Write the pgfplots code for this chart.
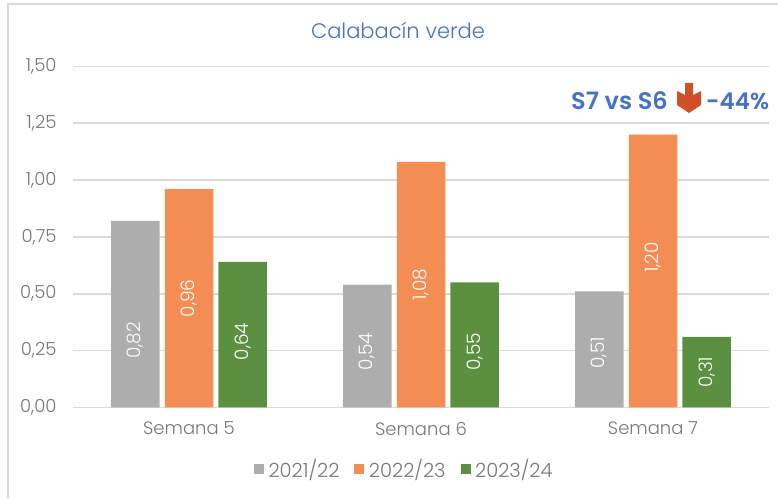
\documentclass[border=0pt]{standalone}
\usepackage{pgfplots}
\pgfplotsset{compat=1.18}
\usepackage{fontspec}
\setmainfont{Poppins Light}
\definecolor{txt}{HTML}{787878}
\definecolor{grd}{HTML}{DADADA}
\definecolor{gr}{HTML}{ADADAD}
\definecolor{orp}{HTML}{F38D54}
\definecolor{grn}{HTML}{5B9041}
\definecolor{blu}{HTML}{4472C4}
\definecolor{arr}{HTML}{CF5028}
\begin{document}
\begin{tikzpicture}
\path[use as bounding box,fill=white] (0pt,0pt) rectangle (778pt,498pt);
\draw[grd,line width=1.5pt] (8pt,0pt) -- (8pt,494pt) -- (778pt,494pt);
\begin{axis}[
  at={(73pt,90.6pt)},anchor=south west,
  scale only axis,width=696pt,height=341pt,
  xmin=-0.5,xmax=2.5,ymin=0,ymax=1.5,
  axis line style={draw=none},
  ytick={0,0.25,0.5,0.75,1,1.25,1.5},
  xtick={0,1,2},xticklabels={Semana 5,Semana 6,Semana 7},
  major tick length=0pt,
  ymajorgrids,grid style={grd,line width=1.6pt},
  ticklabel style={font=\fontsize{18}{20}\selectfont,text=txt},
  y tick label style={xshift=-13pt},
  x tick label style={yshift=-11pt},
  /pgf/number format/assume math mode=true,
  yticklabel style={/pgf/number format/.cd,fixed,fixed zerofill,precision=2,use comma},
  ybar=5.2pt,bar width=48.5pt,
  legend style={at={(0.476,-0.18)},anchor=center,draw=none,fill=none,legend columns=3,
    font=\fontsize{19.5}{20}\selectfont,text=txt,
    /tikz/every even column/.append style={column sep=13pt},
    /tikz/every odd column/.append style={column sep=2.5pt}},
  legend image code/.code={\fill[#1] (0pt,-5pt) rectangle (10pt,5pt);},
  clip=false,
]
\addplot[fill=gr,draw=none] coordinates {(0,0.82) (1,0.54) (2,0.51)};
\addplot[fill=orp,draw=none] coordinates {(0,0.96) (1,1.08) (2,1.20)};
\addplot[fill=grn,draw=none] coordinates {(0,0.64) (1,0.55) (2,0.31)};
\legend{2021/22,2022/23,2023/24}
\node[rotate=90,text=white,font=\fontsize{18.5}{20}\selectfont] at ([xshift=-53.7pt]axis cs:0,0.295) {0,82};
\node[rotate=90,text=white,font=\fontsize{18.5}{20}\selectfont] at ([xshift=-53.7pt]axis cs:1,0.245) {0,54};
\node[rotate=90,text=white,font=\fontsize{18.5}{20}\selectfont] at ([xshift=-53.7pt]axis cs:2,0.24) {0,51};
\node[rotate=90,text=white,font=\fontsize{18.5}{20}\selectfont] at (axis cs:0,0.48) {0,96};
\node[rotate=90,text=white,font=\fontsize{18.5}{20}\selectfont] at (axis cs:1,0.54) {1,08};
\node[rotate=90,text=white,font=\fontsize{18.5}{20}\selectfont] at (axis cs:2,0.66) {1,20};
\node[rotate=90,text=white,font=\fontsize{18.5}{20}\selectfont] at ([xshift=53.7pt]axis cs:0,0.29) {0,64};
\node[rotate=90,text=white,font=\fontsize{18.5}{20}\selectfont] at ([xshift=53.7pt]axis cs:1,0.245) {0,55};
\node[rotate=90,text=white,font=\fontsize{18.5}{20}\selectfont] at ([xshift=53.7pt]axis cs:2,0.155) {0,31};
\end{axis}
\node[text=blu,font=\fontsize{21}{24}\selectfont] at (398pt,467pt) {Calabacín verde};
\node[text=blu,font=\fontsize{24}{26}\selectfont\bfseries,anchor=east,inner sep=0pt] at (668pt,397pt) {S7 vs S6};
\node[text=blu,font=\fontsize{23}{26}\selectfont\bfseries,anchor=west,inner sep=0pt] at (706pt,397pt) {-44\%};
\fill[arr] (685pt,415pt) -- (693pt,415pt) -- (693pt,403pt) -- (701pt,407pt) -- (701pt,393pt) -- (689pt,385pt) -- (677pt,393pt) -- (677pt,407pt) -- (685pt,403pt) -- cycle;
\end{tikzpicture}
\end{document}
